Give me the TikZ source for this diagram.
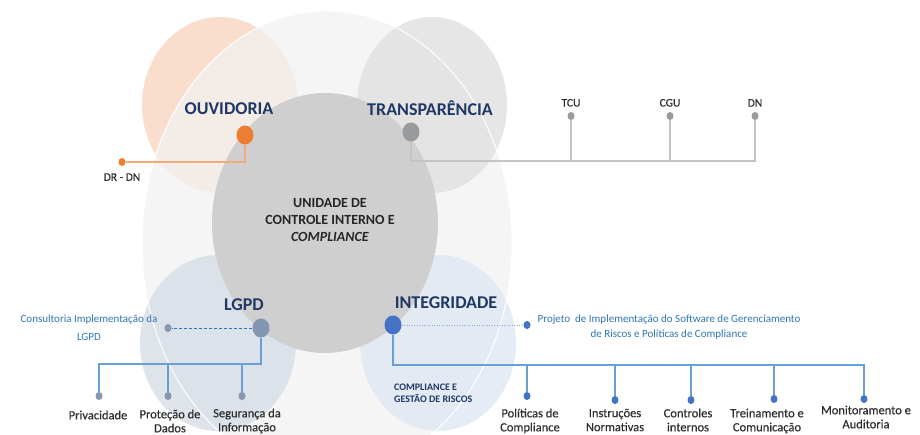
\documentclass[tikz,border=0pt]{standalone}
\usepackage{fontspec}
\setmainfont{Carlito}
\newfontfamily\labfont[FakeBold=0.4]{Carlito}
\usetikzlibrary{positioning,shapes.geometric}
\definecolor{navy}{RGB}{32,56,100}
\definecolor{ouvorange}{RGB}{237,125,49}
\definecolor{ouvline}{RGB}{242,170,120}
\definecolor{ouvfill}{RGB}{250,222,205}
\definecolor{bigfill}{RGB}{241,241,241}
\definecolor{trfill}{RGB}{226,226,226}
\definecolor{midfill}{RGB}{207,207,207}
\definecolor{lgfill}{RGB}{217,223,232}
\definecolor{infill}{RGB}{226,233,245}
\definecolor{trdot}{RGB}{152,155,158}
\definecolor{trline}{RGB}{196,196,196}
\definecolor{lgdot}{RGB}{132,150,176}
\definecolor{indot}{RGB}{68,114,196}
\definecolor{linkblue}{RGB}{104,160,214}
\definecolor{noteblue}{RGB}{46,117,182}
\definecolor{dotblue}{RGB}{143,170,220}
\definecolor{labgray}{RGB}{45,45,45}
\newcommand{\fsz}[2]{\fontsize{#1}{#2}\selectfont}
\tikzset{
	head/.style={font=\fsz{18}{20}\bfseries, text=navy, inner sep=0pt},
	bigdot/.style={ellipse, minimum width=17pt, minimum height=19pt, inner sep=0pt},
	smalldot/.style={ellipse, minimum width=7pt, minimum height=8pt, inner sep=0pt},
	lab/.style={font=\labfont\fsz{12.5}{14}, text=labgray, align=center, inner sep=0pt},
	toplab/.style={font=\labfont\fsz{11.5}{13}, text=labgray, inner sep=0pt},
	note/.style={font=\fsz{11}{15}, text=noteblue, align=center, inner sep=0pt},
	conn/.style={line width=1.2pt},
}

\begin{document}
\begin{tikzpicture}[x=1pt,y=-1pt]
	\useasboundingbox (0,0) rectangle (920,434);
	
	% ------------------- Circles -------------------
	\fill[ouvfill] (220,105) ellipse [x radius=78, y radius=88];
	\fill[bigfill, fill opacity=0.75] (327,243) ellipse [x radius=185, y radius=232];
	\fill[trfill, fill opacity=0.85] (432,105) ellipse [x radius=75, y radius=88];
	\fill[lgfill, fill opacity=0.85] (218,343) ellipse [x radius=78, y radius=88];
	\fill[infill, fill opacity=0.85] (438,343) ellipse [x radius=78, y radius=88];
	\draw[white, line width=1pt] (327,243) ellipse [x radius=185, y radius=232];
	\fill[midfill] (325,223) ellipse [x radius=113, y radius=130];
	
	\node[font=\fsz{14}{17}\bfseries, text=black!85, align=center] (tUCI) at (330,220)
		{UNIDADE DE\\CONTROLE INTERNO E\\\textit{COMPLIANCE}};
	
	% ------------------- Ouvidoria -------------------
	\node[head] (tOuv) at (229,109) {OUVIDORIA};
	\node[bigdot, fill=ouvorange] (dOuv) at (245,135) {};
	\node[smalldot, fill=ouvorange] (sDR) at (122,162) {};
	\node[toplab, below=7pt of sDR] (lDR) {DR - DN};
	\draw[conn, ouvline] (dOuv) |- (sDR);
	
	% ------------------- Transparencia -------------------
	\node[head] (tTr) at (430,108) {TRANSPARÊNCIA};
	\node[bigdot, fill=trdot] (dTr) at (411,132) {};
	\coordinate (busTr) at (411,161);
	
	\node[smalldot, fill=trdot] (sTCU) at (571,116) {};
	\node[smalldot, fill=trdot] (sCGU) at (670,116) {};
	\node[smalldot, fill=trdot] (sDN) at (755,116) {};
	\node[toplab, above=5pt of sTCU] (lTCU) {TCU};
	\node[toplab, above=5pt of sCGU] (lCGU) {CGU};
	\node[toplab, above=5pt of sDN] (lDN) {DN};
	
	\draw[conn, trline] (dTr) -- (busTr) -| (sDN);
	\draw[conn, trline] (busTr) -| (sTCU);
	\draw[conn, trline] (busTr) -| (sCGU);
	
	% ------------------- LGPD -------------------
	\node[head] (tLg) at (244,305) {LGPD};
	\node[bigdot, fill=lgdot] (dLg) at (261,328) {};
	\node[smalldot, fill=lgdot] (sCons) at (168,328) {};
	\node[note, font=\fsz{11}{18}] (nCons) at (89,328) {Consultoria Implementação da\\LGPD};
	\draw[noteblue, line width=1pt, dash pattern=on 3pt off 2pt] (dLg) -- (sCons);
	
	\coordinate (busLg) at (261,364);
	\node[smalldot, fill=lgdot] (sPriv) at (99,396) {};
	\node[smalldot, fill=lgdot] (sProt) at (168,396) {};
	\node[smalldot, fill=lgdot] (sSeg) at (242,396) {};
	\node[lab] (lPriv) at (98,415) {Privacidade};
	\node[lab] (lProt) at (170,421) {Proteção de\\Dados};
	\node[lab] (lSeg) at (247,421) {Segurança da\\Informação};
	
	\draw[conn, linkblue] (dLg) -- (busLg) -| (sPriv);
	\draw[conn, linkblue] (busLg) -| (sProt);
	\draw[conn, linkblue] (busLg) -| (sSeg);
	
	% ------------------- Integridade -------------------
	\node[head] (tIn) at (446,303) {INTEGRIDADE};
	\node[bigdot, fill=indot] (dIn) at (393,325) {};
	\node[smalldot, fill=indot] (sProj) at (527,325) {};
	\node[note] (nProj) at (669,327)
		{Projeto\ \ de Implementação do Software de Gerenciamento\\de Riscos e Políticas de Compliance};
	\draw[dotblue, line width=1pt, dash pattern=on 1pt off 1.5pt] (dIn) -- (sProj);
	
	\node[font=\fsz{10}{12}\bfseries, text=navy, align=left, anchor=west, inner sep=0pt] (tCG)
		at (394,393) {COMPLIANCE E\\GESTÃO DE RISCOS};
	
	\coordinate (busIn) at (393,365);
	\node[smalldot, fill=indot] (sPol) at (527,396) {};
	\node[smalldot, fill=indot] (sIns) at (615,400) {};
	\node[smalldot, fill=indot] (sCtl) at (691,400) {};
	\node[smalldot, fill=indot] (sTre) at (774,399) {};
	\node[smalldot, fill=indot] (sMon) at (864,399) {};
	\node[lab] (lPol) at (530,421) {Políticas de\\Compliance};
	\node[lab] (lIns) at (615,420) {Instruções\\Normativas};
	\node[lab] (lCtl) at (688,420) {Controles\\internos};
	\node[lab] (lTre) at (767,421) {Treinamento e\\Comunicação};
	\node[lab] (lMon) at (866,417) {Monitoramento e\\Auditoria};
	
	\draw[conn, linkblue] (dIn) -- (busIn) -| (sMon);
	\draw[conn, linkblue] (busIn) -| (sPol);
	\draw[conn, linkblue] (busIn) -| (sIns);
	\draw[conn, linkblue] (busIn) -| (sCtl);
	\draw[conn, linkblue] (busIn) -| (sTre);
	
\end{tikzpicture}
\end{document}
